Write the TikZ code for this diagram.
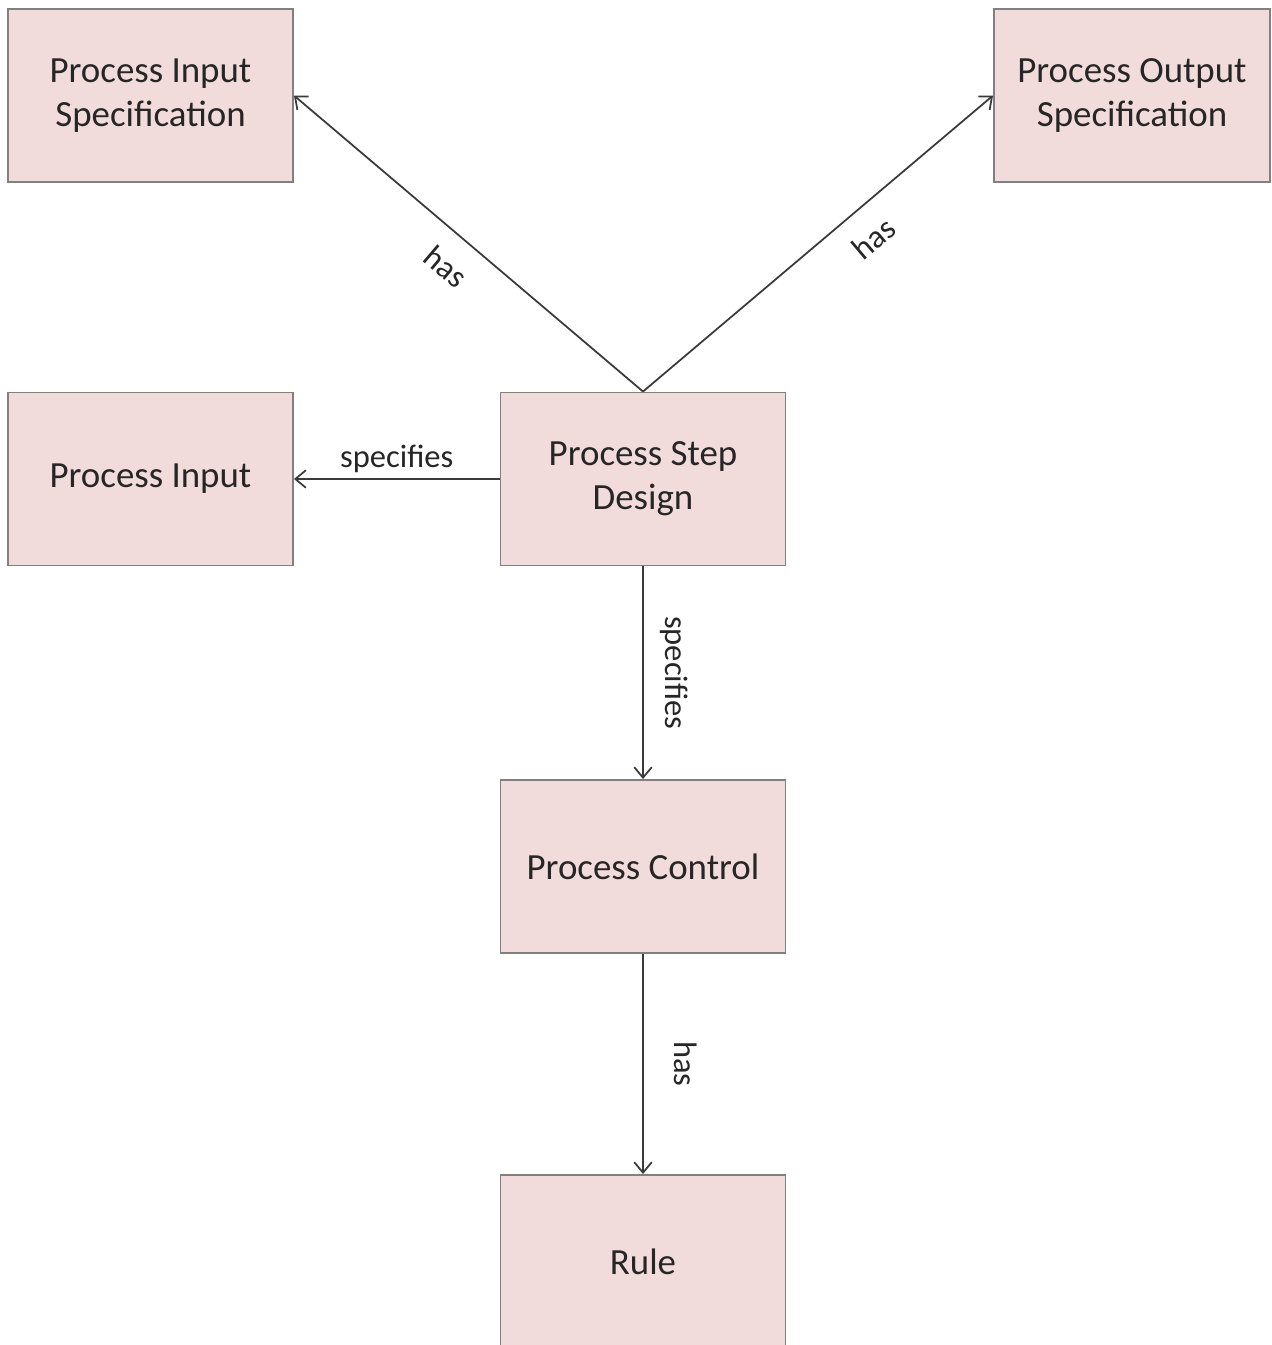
\documentclass[tikz,border=0pt]{standalone}
\usepackage{fontspec}
\setmainfont{Carlito}
\usetikzlibrary{arrows.meta}
\definecolor{boxfill}{HTML}{F2DCDB}
\definecolor{boxline}{HTML}{808080}
\definecolor{arrline}{HTML}{3A3A3A}
\begin{document}
\begin{tikzpicture}[x=1cm, y=1cm,
   box/.style={draw=boxline, line width=1.1pt, fill=boxfill, minimum width=5.7cm, minimum height=3.46cm,
               align=center, font=\fontsize{21}{25}\selectfont, text=black!85},
   rel/.style={draw=arrline, line width=1pt, -{Straight Barb[length=6pt, width=10pt]}},
   lbl/.style={font=\fontsize{18.5}{21}\selectfont, text=black!85}]
   \useasboundingbox (0,0) rectangle (25.42,-26.9);
   \def\xl{3.01};
   \def\xm{12.86};
   \node[box] (inspec) at (\xl,-1.91) {Process Input\\Specification};
   \node[box, minimum width=5.52cm] (outspec) at (22.64,-1.91) {Process Output\\Specification};
   \node[box] (input) at (\xl,-9.58) {Process Input};
   \node[box] (design) at (\xm,-9.58) {Process Step\\Design};
   \node[box] (control) at (\xm,-17.33) {Process Control};
   \node[box] (rule) at (\xm,-25.23) {Rule};
   % arrows from the design step
   \draw[rel] (design.north) -- node[lbl, pos=0.505, sloped, below, yshift=-8pt] {has} (inspec.east);
   \draw[rel] (design.north) -- node[lbl, pos=0.6, sloped, below, yshift=-8pt] {has} (outspec.west);
   \draw[rel] (design.west) -- node[lbl, midway, above] {specifies} (input.east);
   \draw[rel] (design.south) -- node[lbl, midway, rotate=-90, anchor=south, yshift=6pt] {specifies} (control.north);
   \draw[rel] (control.south) -- node[lbl, midway, rotate=-90, anchor=south, yshift=14pt] {has} (rule.north);
\end{tikzpicture}
\end{document}
